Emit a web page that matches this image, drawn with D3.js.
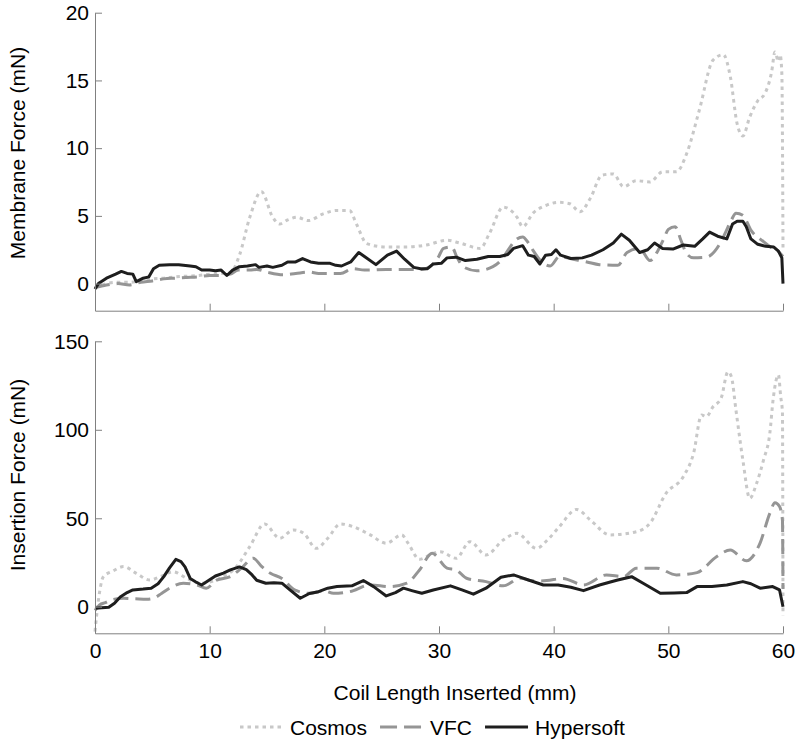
<!DOCTYPE html>
<html>
<head>
<meta charset="utf-8">
<script src="https://cdn.jsdelivr.net/npm/d3@7"></script>
<style>
  body { margin: 0; background: #fff; }
  text { font-family: "Liberation Sans", Arial, Helvetica, sans-serif; fill: #000; }
  .axis path, .axis line { stroke: #808080; stroke-width: 1; }
  .axis text { font-size: 21px; fill: #000; }
</style>
</head>
<body>
<div class="chart"></div>
<script>
const width = 800, height = 745;

// ---- data: [coil length mm, force mN]
const membraneCosmos = [
  [0,-0.3],[1,0.0],[2,0.1],[3,0.1],[4,0.2],[5,0.35],[6,0.4],[7,0.5],[8,0.55],[9,0.6],
  [10,0.7],[11,0.75],[11.8,0.8],[12.6,2.1],[13.5,4.9],[14.5,6.8],[15.5,4.9],[16.1,4.4],
  [16.8,4.7],[17.6,4.9],[18.6,4.65],[19.9,5.15],[21.1,5.4],[22.2,5.4],[22.8,4.4],[23.7,2.95],
  [25.4,2.7],[26.9,2.7],[28.9,2.85],[30.7,3.2],[31.8,3.0],[33.6,2.6],[34.4,3.7],[35.6,5.65],
  [36.8,4.9],[37.3,4.2],[38.2,5.2],[39.4,5.8],[40.4,6.0],[41.4,5.9],[42.3,5.3],[43.2,6.3],
  [44.2,8.0],[45.2,8.1],[46.1,7.15],[47.2,7.6],[48.4,7.5],[49.5,8.25],[50.7,8.25],[51.6,9.6],
  [52.7,12.8],[53.9,16.5],[54.8,16.9],[55.4,15.3],[56.0,11.8],[56.5,10.9],[57.1,12.3],
  [57.8,13.5],[58.4,14.0],[59.0,15.6],[59.3,17.1],[59.6,16.4],[59.75,16.9],[59.9,15.5],[60,2.6]
];
const membraneVFC = [
  [0,-0.3],[1,-0.1],[2,0.0],[3,-0.1],[4,0.1],[5,0.2],[6,0.35],[7,0.4],[8,0.45],[9,0.5],
  [10,0.6],[11,0.6],[11.8,0.7],[12.5,1.0],[13.5,1.0],[14.1,1.05],[15,0.85],[16.4,0.65],
  [17.5,0.75],[18.7,0.85],[19.5,0.75],[21.4,0.75],[22.5,1.1],[23.5,1.0],[25.4,1.05],[27,1.05],
  [28.5,1.05],[29.2,1.25],[29.9,1.9],[30.4,2.6],[31.1,2.7],[31.6,1.9],[32.1,1.25],[33.3,0.95],
  [34.7,1.25],[35.5,1.8],[36.2,2.7],[36.8,3.3],[37.3,3.45],[37.8,3.0],[38.2,2.45],[39.1,1.5],
  [39.7,1.3],[40.5,2.0],[41.7,1.8],[42.9,1.6],[44,1.4],[45.6,1.35],[46.4,2.3],[47.5,2.6],
  [48.4,1.7],[49.1,2.45],[49.6,3.3],[50.0,4.0],[50.6,4.2],[51.1,3.2],[51.6,2.2],[52.2,1.9],
  [53.3,1.95],[54.5,2.95],[55,3.8],[55.5,4.7],[55.9,5.2],[56.5,5.05],[57.2,3.95],[58.3,3.1],
  [59.1,2.6],[59.7,2.3],[60,2.0]
];
const membraneHypersoft = [
  [0,-0.4],[0.3,0.0],[1,0.4],[1.8,0.7],[2.3,0.9],[2.8,0.75],[3.3,0.7],[3.6,0.15],[4.2,0.4],
  [4.7,0.5],[5.1,1.1],[5.6,1.35],[6.5,1.4],[7.3,1.4],[8.3,1.3],[8.8,1.25],[9.3,1.0],[10,1.0],
  [10.5,0.95],[11,1.0],[11.5,0.6],[12,1.0],[12.6,1.25],[13.3,1.3],[14,1.4],[14.3,1.2],[15,1.3],
  [15.5,1.2],[16.3,1.35],[16.8,1.6],[17.5,1.6],[18.1,1.85],[18.8,1.6],[19.5,1.5],[20.5,1.5],
  [21,1.35],[21.5,1.3],[22.3,1.6],[23,2.3],[23.5,2.0],[24.5,1.4],[25.5,2.1],[26.3,2.4],[27,1.8],
  [27.8,1.2],[28.4,1.1],[29,1.1],[29.5,1.45],[30.2,1.5],[30.7,1.9],[31.5,1.95],[32.3,1.7],
  [33.3,1.8],[34.3,2.0],[35.3,2.0],[36,2.15],[36.5,2.6],[37.3,2.8],[37.8,2.1],[38.3,2.0],
  [38.8,1.45],[39.3,2.1],[39.8,2.15],[40.2,2.5],[40.6,2.1],[41.5,1.85],[42.5,1.9],[43.3,2.1],
  [44.3,2.5],[45.2,3.0],[45.9,3.65],[46.6,3.2],[47.5,2.3],[48.2,2.5],[48.8,3.0],[49.5,2.6],
  [50.4,2.55],[51.3,2.85],[52.3,2.75],[53,3.3],[53.6,3.8],[54.3,3.5],[55.1,3.3],[55.6,4.4],
  [56,4.6],[56.5,4.6],[56.8,4.2],[57.2,3.3],[57.8,2.9],[58.5,2.75],[59.2,2.7],[59.6,2.4],
  [59.9,1.9],[60,0]
];
const insertionCosmos = [
  [0,-14],[0.3,3.8],[0.73,17],[1.5,20],[2.5,22.7],[3.6,18.9],[4.8,15.1],[5.7,17],[6.8,19.8],
  [8.0,16.1],[9.15,13.3],[10.0,14],[10.9,16.1],[12.35,22.7],[13.5,34],[14.8,46.8],[16.1,38.7],
  [17.3,43.4],[18.2,41.5],[19.3,33],[20.3,38.7],[21.4,46.8],[22.5,45.3],[24.0,40.6],[25.4,35.9],
  [26.75,40.6],[27.3,35.9],[28.3,26.8],[29.5,30.2],[30.1,31.1],[31.5,27.4],[32.7,36.8],
  [34.1,29.3],[35.6,37.7],[36.8,41.5],[38.5,33],[39.5,38],[40.5,45.3],[42.0,55],[43.2,49],
  [44.9,40.6],[47.2,42.4],[48.4,47.2],[49.8,64.1],[51.3,73.5],[52.2,86.7],[52.9,108.4],
  [53.3,107.4],[53.9,113],[54.6,117.8],[55.2,132.8],[55.5,130],[55.9,111],[56.5,82.9],
  [57.1,61.3],[57.7,69.8],[58.3,82.9],[58.85,98],[59.15,117.8],[59.6,131],[59.8,118.7],
  [59.95,110],[60,-5]
];
const insertionVFC = [
  [0,-2],[0.4,1],[0.9,2.3],[1.5,4],[2.5,4.8],[3.5,4.5],[4.5,4.2],[5.1,4.8],[5.8,7.5],[6.5,10.5],
  [7.7,13.3],[8.9,12.3],[9.7,10.5],[10.6,15],[11.8,17],[12.8,22],[13.8,27.4],[14.5,23],
  [15.3,18.9],[16.3,16],[17.4,9.5],[18.7,7.6],[20,9],[20.8,7.6],[22.2,8.5],[24.0,12.3],
  [25.7,11.4],[27.2,13.3],[28.3,20.8],[29.4,30.2],[30.7,21.8],[31.5,20.8],[32.4,16.1],
  [34.1,14.2],[35.6,11.8],[37.1,16.1],[38.3,14.5],[39.4,14.8],[40.8,16],[42.6,12.3],[44.6,18],
  [46.1,17],[47.2,21.8],[49.0,21.8],[50.7,18],[52.5,19.3],[54.2,28.3],[55.4,32],[56.8,26],
  [58.0,36],[58.85,52.8],[59.3,58.8],[59.7,56.6],[59.95,49],[60,10]
];
const insertionHypersoft = [
  [0,-0.8],[1.2,-0.3],[1.7,2],[2.2,5.5],[2.8,8],[3.3,9.5],[4.2,10],[4.9,10.5],[5.5,13],[6.0,17],
  [6.5,22],[7.05,26.8],[7.5,25.5],[7.85,22.5],[8.3,16],[8.8,14],[9.3,12.3],[9.7,14],[10.5,17.4],
  [11.2,19],[11.8,20.8],[12.6,22.5],[13.2,21],[13.7,18],[14.1,15],[14.9,13.3],[15.6,13.5],
  [16.3,13.3],[17.0,9.5],[17.9,4.8],[18.7,7.5],[19.5,8.5],[20.3,10.5],[21.1,11.4],[22.4,11.8],
  [23.4,14.8],[24.3,11.4],[25.4,6.1],[26.2,8],[26.9,10.5],[27.7,9],[28.5,7.6],[29.5,9.5],
  [31.0,11.8],[32,9.5],[33.0,7.1],[34.1,10.5],[35.4,16.7],[36.5,18],[37.2,16.5],[37.8,15.1],
  [39.1,12.3],[40.4,12.3],[41.5,11],[42.6,9.1],[44.0,12.3],[45.5,15],[46.8,17],[47.8,13.3],
  [49.3,7.6],[50.5,7.8],[51.6,8],[52.5,11.4],[53.8,11.5],[55.1,12.3],[56.5,14.2],[57.2,13],
  [58.0,10.5],[59.1,11.4],[59.7,9.5],[60,0]
];

const seriesNames = ["Cosmos", "VFC", "Hypersoft"];
const xTicks = [0, 10, 20, 30, 40, 50, 60];
const membraneTicks = [0, 5, 10, 15, 20];
const insertionTicks = [0, 50, 100, 150];

// line styles per series
const styles = {
  Cosmos:    { color: "#c8c8c8", dash: "3.5,4", curve: d3.curveMonotoneX },
  VFC:       { color: "#959595", dash: "15,7",  curve: d3.curveMonotoneX },
  Hypersoft: { color: "#1e1e1e", dash: null,    curve: d3.curveLinear }
};

const svg = d3.select(".chart").append("svg")
  .attr("width", width).attr("height", height);

const x = d3.scaleLinear().domain([0, 60]).range([95, 783]);

const panels = [
  { title: "Membrane Force (mN)", domain: [-2, 20], range: [310.7, 12.7], ticks: membraneTicks,
    data: [membraneCosmos, membraneVFC, membraneHypersoft], labels: false, titleY: 153 },
  { title: "Insertion Force (mN)", domain: [-15, 150], range: [633.3, 341.3], ticks: insertionTicks,
    data: [insertionCosmos, insertionVFC, insertionHypersoft], labels: true, titleY: 475 }
];

panels.forEach((p) => {
  const y = d3.scaleLinear().domain(p.domain).range(p.range);
  const g = svg.append("g");

  const line = d3.line().x((d) => x(d[0])).y((d) => y(d[1]));

  p.data.forEach((series, i) => {
    const s = styles[seriesNames[i]];
    g.append("path")
      .datum(series)
      .attr("d", line.curve(s.curve))
      .attr("fill", "none")
      .attr("stroke", s.color)
      .attr("stroke-width", 3)
      .attr("stroke-dasharray", s.dash)
      .attr("stroke-linejoin", "round");
  });

  const xAxis = d3.axisBottom(x).tickValues(xTicks).tickSizeInner(-7).tickSizeOuter(0).tickPadding(10);
  if (!p.labels) xAxis.tickFormat("");
  g.append("g").attr("class", "axis")
    .attr("transform", "translate(0," + p.range[0] + ")")
    .call(xAxis);

  g.append("g").attr("class", "axis")
    .attr("transform", "translate(" + x.range()[0] + ",0)")
    .call(d3.axisLeft(y).tickValues(p.ticks).tickSizeInner(-7).tickSizeOuter(0).tickPadding(6));

  g.append("text")
    .attr("transform", "translate(25," + p.titleY + ") rotate(-90)")
    .attr("text-anchor", "middle")
    .style("font-size", "21px")
    .text(p.title);
});

svg.selectAll(".axis .domain").attr("stroke", "#808080");

svg.append("text")
  .attr("x", 455).attr("y", 700)
  .attr("text-anchor", "middle")
  .style("font-size", "21px")
  .text("Coil Length Inserted (mm)");

// legend
const legend = svg.append("g").attr("transform", "translate(240,727)");
let lx = 0;
seriesNames.forEach((name) => {
  const s = styles[name];
  legend.append("line")
    .attr("x1", lx).attr("x2", lx + 43)
    .attr("stroke", s.color).attr("stroke-width", 3)
    .attr("stroke-dasharray", name === "VFC" ? "17,7" : s.dash);
  const t = legend.append("text")
    .attr("x", lx + 50).attr("y", 8)
    .style("font-size", "21px")
    .text(name);
  lx += 50 + t.node().getComputedTextLength() + 13;
});
</script>
</body>
</html>
